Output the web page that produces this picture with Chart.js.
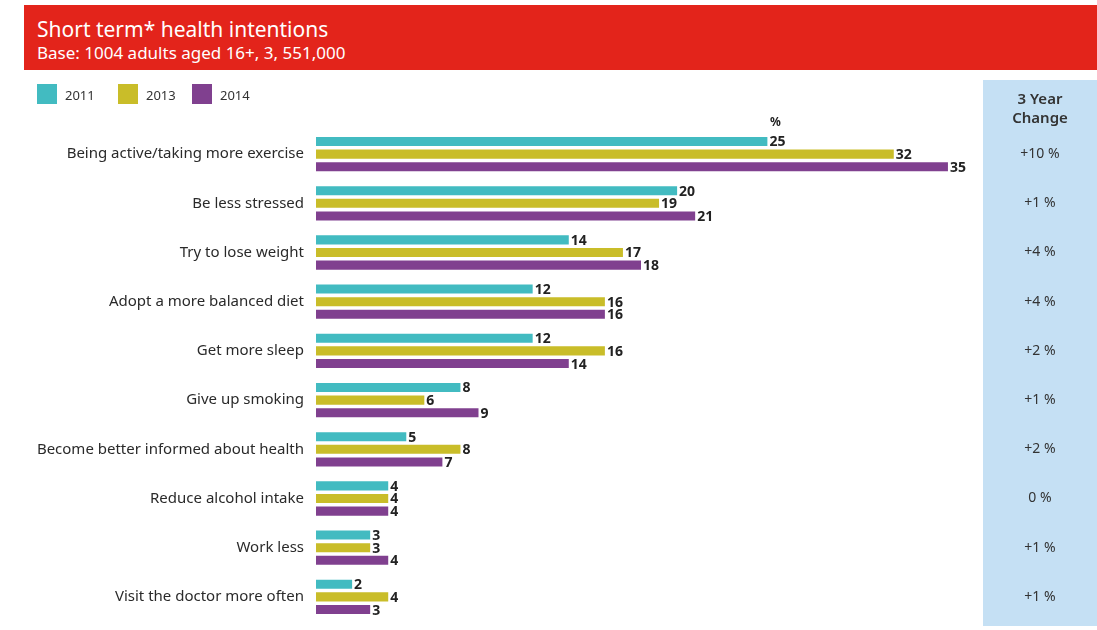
<!DOCTYPE html>
<html>
<head>
<meta charset="utf-8">
<script src="https://cdn.jsdelivr.net/npm/chart.js@4"></script>
<style>
  body { margin: 0; background: #fff; font-family: "Noto Sans", sans-serif; }
  #wrap { position: relative; width: 1097px; height: 630px; overflow: hidden; }
  #banner { position: absolute; left: 24px; top: 5px; width: 1073px; height: 65px; background: #e3241b; color: #fff; }
  #banner .t { position: absolute; left: 13px; top: 12px; font-size: 21px; line-height: 25px; }
  #banner .s { position: absolute; left: 13px; top: 37px; font-size: 17px; line-height: 21px; }
  #legend { position: absolute; left: 37px; top: 84px; font-size: 13px; color: #333; }
  #legend span { position: absolute; top: 0; white-space: nowrap; line-height: 22px; }
  #legend i { display: inline-block; width: 20px; height: 20px; vertical-align: top; margin-right: 8px; }
  canvas { position: absolute; left: 0; top: 0; }
</style>
</head>
<body>
<div id="wrap">
  <canvas id="barChart" width="1097" height="630"></canvas>
  <div id="banner">
    <div class="t">Short term* health intentions</div>
    <div class="s">Base: 1004 adults aged 16+, 3, 551,000</div>
  </div>
  <div id="legend"></div>
</div>
<script>
var categories = ['Being active/taking more exercise', 'Be less stressed', 'Try to lose weight',
  'Adopt a more balanced diet', 'Get more sleep', 'Give up smoking',
  'Become better informed about health', 'Reduce alcohol intake', 'Work less',
  'Visit the doctor more often'];
var years = ['2011', '2013', '2014'];
var values2011 = [25, 20, 14, 12, 12, 8, 5, 4, 3, 2];
var values2013 = [32, 19, 17, 16, 16, 6, 8, 4, 3, 4];
var values2014 = [35, 21, 18, 16, 14, 9, 7, 4, 4, 3];
var changes = ['+10 %', '+1 %', '+4 %', '+4 %', '+2 %', '+1 %', '+2 %', '0 %', '+1 %', '+1 %'];
var colors = ['#42bbc1', '#c9bd29', '#80408f'];

// legend squares above the plot
var legend = document.getElementById('legend');
var legendX = [0, 81, 155];
years.forEach(function (y, i) {
  var s = document.createElement('span');
  s.style.left = legendX[i] + 'px';
  s.innerHTML = '<i style="background:' + colors[i] + '"></i>' + y;
  legend.appendChild(s);
});

// light blue "3 Year Change" column on the right
var changePanel = {
  id: 'changePanel',
  beforeDraw: function (chart) {
    var c = chart.ctx;
    c.save();
    c.fillStyle = '#c5e0f4';
    c.fillRect(983, 80, 114, 546);
    c.restore();
  },
  afterDraw: function (chart) {
    var c = chart.ctx, yScale = chart.scales.y;
    c.save();
    c.textAlign = 'center';
    c.textBaseline = 'middle';
    c.fillStyle = '#333';
    c.font = '600 15px "Noto Sans"';
    c.fillText('3 Year', 1040, 100);
    c.fillText('Change', 1040, 119);
    c.font = '14px "Noto Sans"';
    changes.forEach(function (t, i) {
      c.fillText(t, 1040, yScale.getPixelForValue(i));
    });
    c.restore();
  }
};

// value labels at the end of each bar
var barValues = {
  id: 'barValues',
  afterDatasetsDraw: function (chart) {
    var c = chart.ctx;
    c.save();
    c.fillStyle = '#222';
    c.font = 'bold 14px "Noto Sans"';
    c.textBaseline = 'middle';
    c.textAlign = 'left';
    chart.data.datasets.forEach(function (ds, di) {
      chart.getDatasetMeta(di).data.forEach(function (bar, i) {
        c.fillText(ds.data[i], bar.x + 2, bar.y + 1);
      });
    });
    var first = chart.getDatasetMeta(0).data[0];
    c.font = 'bold 12px "Noto Sans"';
    c.textAlign = 'center';
    c.fillText('%', first.x + 8, first.y - 19);
    c.restore();
  }
};

var ctx = document.getElementById('barChart').getContext('2d');
var myChart = new Chart(ctx, {
  type: 'bar',
  data: {
    labels: categories,
    datasets: [{
      label: years[0], data: values2011, backgroundColor: colors[0]
    }, {
      label: years[1], data: values2013, backgroundColor: colors[1]
    }, {
      label: years[2], data: values2014, backgroundColor: colors[2]
    }]
  },
  options: {
    indexAxis: 'y',
    responsive: false,
    animation: false,
    barPercentage: 0.72,
    categoryPercentage: 0.77,
    layout: { padding: { top: 129.5, bottom: 8.5, left: 0, right: 131 } },
    plugins: { legend: { display: false }, tooltip: { enabled: false } },
    scales: {
      x: { display: false, min: 0, max: 36 },
      y: {
        grid: { display: false, drawTicks: false },
        border: { display: false },
        ticks: { color: '#2a2a2a', padding: 12, font: { family: 'Noto Sans', size: 15 } },
        afterFit: function (scale) {
          scale.width = 316;
          scale.paddingTop = 0;
          scale.paddingBottom = 0;
        }
      }
    }
  },
  plugins: [changePanel, barValues]
});
</script>
</body>
</html>
